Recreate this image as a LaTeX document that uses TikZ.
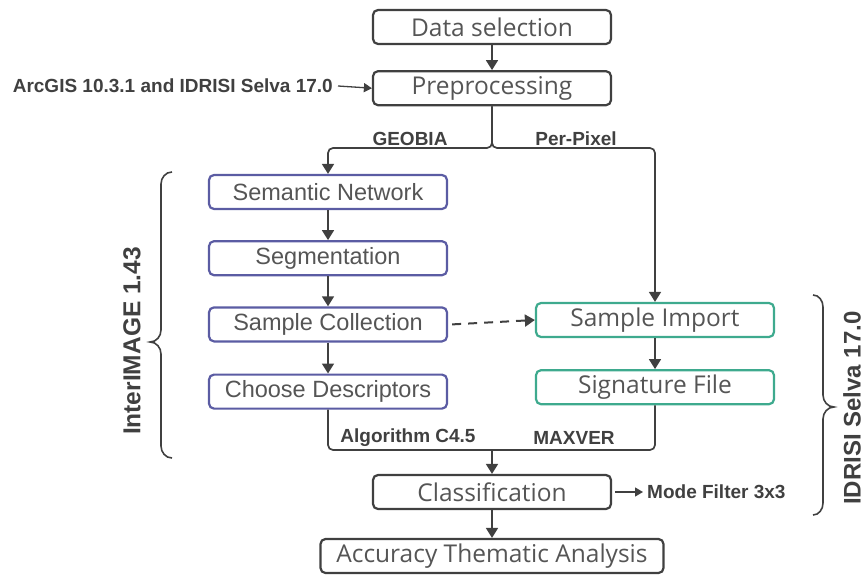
\documentclass[tikz,border=0pt]{standalone}
\usepackage{fontspec}
\setmainfont{Liberation Sans}
\newfontfamily\opensans{Open Sans}
\usepackage{tikz}
\usetikzlibrary{positioning,arrows.meta}
\usepackage{xcolor}

\definecolor{boxblau}{HTML}{5B5CA3}
\definecolor{boxgruen}{HTML}{3EAA8E}
\definecolor{strich}{HTML}{404040}
\definecolor{schrift}{HTML}{555555}

\tikzset{
  schritt/.style={draw=strich, line width=2.2pt, rounded corners=5pt,
    minimum width=238pt, minimum height=34pt, inner sep=0pt, text=schrift,
    font=\opensans\fontsize{24.5}{28}\selectfont},
  geobox/.style={schritt, draw=boxblau, font=\fontsize{23.5}{28}\selectfont},
  pixbox/.style={schritt, draw=boxgruen},
  pfeil/.style={draw=strich, line width=1.7pt, rounded corners=5pt,
    -{Triangle[length=10pt,width=12pt]}},
  etikett/.style={font=\bfseries\fontsize{19}{22}\selectfont, text=strich, inner sep=1pt},
  klammer/.style={draw=strich, line width=1.6pt},
}

\begin{document}
\begin{tikzpicture}[x=1pt,y=-1pt]
  \useasboundingbox (0,0) rectangle (867,575);

  % Hauptkette
  \node[schritt] (daten) at (492,27) {Data selection};
  \node[schritt, below=25pt of daten] (vorver) {Preprocessing};
  \node[etikett, anchor=east] (software) at (334,86) {ArcGIS 10.3.1 and IDRISI Selva 17.0};
  \draw[pfeil] (daten) -- (vorver);
  \draw[pfeil, line width=1.3pt, -{Triangle[length=8pt,width=9pt]}] ([xshift=4pt]software.east) -- (vorver.west);

  % GEOBIA (InterIMAGE, blau)
  \node[geobox] (semnetz) at (328,192) {Semantic Network};
  \node[geobox, below=30pt of semnetz] (segment) {Segmentation};
  \node[geobox, below=30pt of segment] (sammlung) {Sample Collection};
  \node[geobox, below=31pt of sammlung] (deskript) {Choose Descriptors};
  \draw[pfeil] (semnetz) -- (segment);
  \draw[pfeil] (segment) -- (sammlung);
  \draw[pfeil] (sammlung) -- (deskript);

  % Per-Pixel (IDRISI, gruen)
  \node[pixbox] (import) at (655,320) {Sample Import};
  \node[pixbox, below=31pt of import] (signatur) {Signature File};
  \draw[pfeil] (import) -- (signatur);
  \draw[pfeil, dash pattern=on 9pt off 7pt, line width=2pt] ([xshift=4pt]sammlung.east) -- (import.west);

  % Verzweigung nach der Vorverarbeitung
  \coordinate (teilung) at (492,148);
  \draw[pfeil] (vorver.south) -- (teilung) -| (semnetz.north);
  \draw[pfeil] (vorver.south) -- (teilung) -| (import.north);
  \node[etikett] (geobia) at (410,139) {GEOBIA};
  \node[etikett] (perpixel) at (576,139) {Per-Pixel};

  % Zusammenfuehrung zur Klassifikation
  \node[schritt] (klass) at (492,492) {Classification};
  \node[schritt, minimum width=343pt] (genau) at (492,556) {Accuracy Thematic Analysis};
  \coordinate (treffen) at (492,450);
  \draw[pfeil, -] (deskript.south) |- (treffen);
  \draw[pfeil, -] (signatur.south) |- (treffen);
  \draw[pfeil] (treffen) -- (klass.north);
  \draw[pfeil] (klass) -- (genau);
  \node[etikett] (algo) at (408,438) {Algorithm C4.5};
  \node[etikett] (maxver) at (574,438) {MAXVER};
  \node[etikett, anchor=west, inner xsep=4pt] (filter) at (643,492) {Mode Filter 3x3};
  \draw[pfeil, line width=1.3pt, -{Triangle[length=8pt,width=9pt]}] ([xshift=3pt]klass.east) -- (filter.west);

  % Klammern und Softwarenamen
  \draw[klammer] (172,172) to[out=180,in=90] (161,184) -- (161,330)
    to[out=-90,in=0] (150,342) to[out=0,in=90] (161,354) -- (161,446)
    to[out=-90,in=180] (172,458);
  \draw[klammer] (813,295) to[out=0,in=90] (823,307) -- (823,395)
    to[out=-90,in=180] (834,407) to[out=180,in=90] (823,419) -- (823,503)
    to[out=-90,in=0] (813,515);
  \node[rotate=90, font=\bfseries\fontsize{24.5}{28}\selectfont, text=strich] (interimage) at (132,341) {InterIMAGE 1.43};
  \node[rotate=90, font=\bfseries\fontsize{24}{28}\selectfont, text=strich, inner sep=0pt] (idrisi) at (852,408) {IDRISI Selva 17.0};
\end{tikzpicture}
\end{document}
